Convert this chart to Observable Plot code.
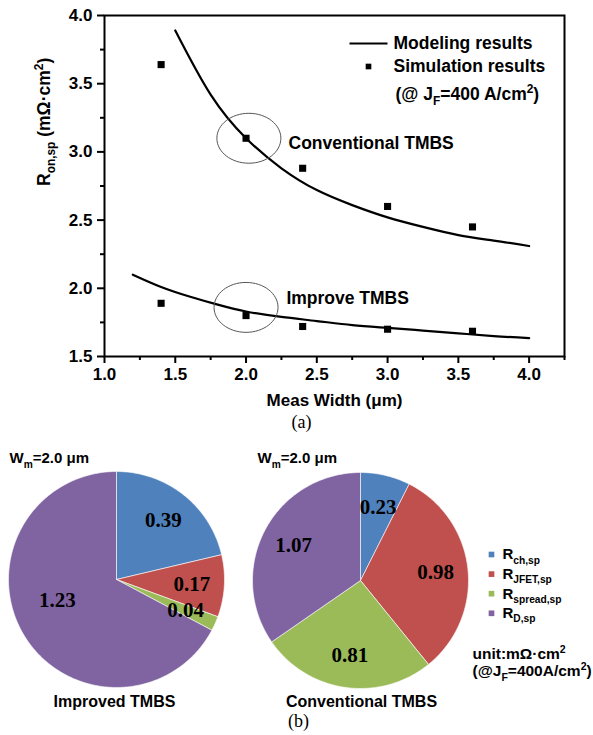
<!DOCTYPE html>
<html><head><meta charset="utf-8">
<script src="https://cdn.jsdelivr.net/npm/d3@7"></script>
<script src="https://cdn.jsdelivr.net/npm/@observablehq/plot@0.6"></script>
<style>
html,body{margin:0;padding:0;background:#fff;}
#chart{width:593px;height:735px;position:relative;overflow:hidden;background:#fff;}
#chart svg{display:block;}
</style></head><body><div id="chart"></div>
<script>
// ---------- (a) line chart data ----------
const measWidth = [1.4, 2.0, 2.4, 3.0, 3.6];
const convSim = [3.64, 3.10, 2.88, 2.60, 2.45];
const imprSim = [1.89, 1.80, 1.72, 1.70, 1.685];
const convModelX = [1.5, 1.75, 2.0, 2.25, 2.5, 2.75, 3.0, 3.25, 3.5, 3.75, 4.0];
const convModelY = [3.89, 3.42, 3.10, 2.88, 2.72, 2.61, 2.52, 2.45, 2.39, 2.35, 2.31];
const imprModelX = [1.2, 1.4, 1.6, 1.8, 2.0, 2.25, 2.5, 2.75, 3.0, 3.25, 3.5, 3.75, 4.0];
const imprModelY = [2.10, 2.01, 1.94, 1.88, 1.83, 1.79, 1.76, 1.73, 1.71, 1.69, 1.67, 1.65, 1.635];
const xTicks = [1.0, 1.5, 2.0, 2.5, 3.0, 3.5, 4.0];
const xMinor = [1.25, 1.75, 2.25, 2.75, 3.25, 3.75, 4.25];
const yTicks = [1.5, 2.0, 2.5, 3.0, 3.5, 4.0];
const yMinor = [1.75, 2.25, 2.75, 3.25, 3.75];
const seriesNames = ["Conventional TMBS", "Improve TMBS"];
const annotCenterX = [2.02, 2.0];
const annotCenterY = [3.10, 1.86];
const annotLabelX = [2.30, 2.285];
const annotLabelY = [3.06, 1.925];
const legendLabels = ["Modeling results", "Simulation results", "(@ J_{F}=400 A/cm^{2})"];
const xLabel = "Meas Width (μm)";
const yLabel = "R_{on,sp} (mΩ·cm^{2})";

// ---------- (b) pie chart data ----------
const componentKeys = ["ch", "JFET", "spread", "D"];
const componentLabels = ["R_{ch,sp}", "R_{JFET,sp}", "R_{spread,sp}", "R_{D,sp}"];
const pieColors = ["#4F81BD", "#C0504D", "#9BBB59", "#8064A2"];
const improvedVals = [0.39, 0.17, 0.04, 1.23];
const conventionalVals = [0.23, 0.98, 0.81, 1.07];
const pieTitles = ["Improved TMBS", "Conventional TMBS"];
const pieHeader = "W_{m}=2.0 μm";
const unitLines = ["unit:mΩ·cm^{2}", "(@J_{F}=400A/cm^{2})"];

const SANS = "'Liberation Sans', Arial, Helvetica, sans-serif";
const SERIF = "'Liberation Serif', 'Times New Roman', serif";

// ---------- custom symbols ----------
const ellipseSymbol = {
  draw(ctx, size) {
    const rx = Math.sqrt(size / Math.PI), ry = rx * 0.78, k = 0.5523;
    ctx.moveTo(rx, 0);
    ctx.bezierCurveTo(rx, k * ry, k * rx, ry, 0, ry);
    ctx.bezierCurveTo(-k * rx, ry, -rx, k * ry, -rx, 0);
    ctx.bezierCurveTo(-rx, -k * ry, -k * rx, -ry, 0, -ry);
    ctx.bezierCurveTo(k * rx, -ry, rx, -k * ry, rx, 0);
    ctx.closePath();
  }
};
const dashSymbol = {
  draw(ctx, size) {
    const h = Math.sqrt(size / Math.PI);
    ctx.moveTo(-h, 0); ctx.lineTo(h, 0);
  }
};

// ---------- (a) ----------
const simRows = [];
measWidth.forEach((w, i) => { simRows.push({x: w, y: convSim[i]}); simRows.push({x: w, y: imprSim[i]}); });
const convModel = convModelX.map((x, i) => ({x, y: convModelY[i]}));
const imprModel = imprModelX.map((x, i) => ({x, y: imprModelY[i]}));
const annots = seriesNames.map((name, i) => ({name, cx: annotCenterX[i], cy: annotCenterY[i], lx: annotLabelX[i], ly: annotLabelY[i]}));

const plotA = Plot.plot({
  width: 593, height: 440,
  marginLeft: 104, marginRight: 29, marginTop: 15, marginBottom: 84,
  style: {fontFamily: SANS, fontWeight: "bold", fontSize: "17px", background: "white", color: "black"},
  x: {domain: [1, 4.25]},
  y: {domain: [1.5, 4.0]},
  marks: [
    Plot.axisX({ticks: xTicks, tickFormat: d3.format(".1f"), tickSize: 7, tickPadding: 4, strokeWidth: 2, label: null, fontSize: 17}),
    Plot.axisX({ticks: xMinor, tickSize: 4, strokeWidth: 2, fill: "none", tickFormat: () => "", label: null}),
    Plot.axisY({ticks: yTicks, tickFormat: d3.format(".1f"), tickSize: 7, tickPadding: 5, strokeWidth: 2, label: null, fontSize: 17}),
    Plot.axisY({ticks: yMinor, tickSize: 4, strokeWidth: 2, fill: "none", tickFormat: () => "", label: null}),
    Plot.frame({stroke: "black", strokeWidth: 2}),
    Plot.line(convModel, {x: "x", y: "y", curve: "natural", stroke: "black", strokeWidth: 2.2}),
    Plot.line(imprModel, {x: "x", y: "y", curve: "natural", stroke: "black", strokeWidth: 2.2}),
    Plot.dot(simRows, {x: "x", y: "y", symbol: "square", r: 4, fill: "black", stroke: "none"}),
    Plot.dot(annots, {x: "cx", y: "cy", symbol: ellipseSymbol, r: 32, fill: "none", stroke: "#555", strokeWidth: 1}),
    Plot.text(annots, {x: "lx", y: "ly", text: "name", textAnchor: "start", fontSize: 17.5}),
    // legend (frame-relative)
    Plot.dot([0], {frameAnchor: "top-left", dx: 264, dy: 28, symbol: dashSymbol, r: 19, fill: "none", stroke: "black", strokeWidth: 2.2}),
    Plot.dot([0], {frameAnchor: "top-left", dx: 264, dy: 51, symbol: "square", r: 3.2, fill: "black", stroke: "none"}),
    Plot.text([legendLabels[0]], {frameAnchor: "top-left", dx: 289, dy: 28, textAnchor: "start", lineAnchor: "middle", text: d => d, fontSize: 17.5}),
    Plot.text([legendLabels[1]], {frameAnchor: "top-left", dx: 289, dy: 51, textAnchor: "start", lineAnchor: "middle", text: d => d, fontSize: 17.5}),
    Plot.text([legendLabels[2]], {frameAnchor: "top-left", dx: 291, dy: 79, textAnchor: "start", lineAnchor: "middle", text: d => d, fontSize: 17.5}),
    // axis titles
    Plot.text([xLabel], {frameAnchor: "bottom", dy: 44, lineAnchor: "middle", text: d => d, fontSize: 17}),
    Plot.text([yLabel], {frameAnchor: "left", dx: -60, rotate: -90, lineAnchor: "middle", text: d => d, fontSize: 17.5}),
    Plot.text(["(a)"], {frameAnchor: "bottom", dx: -33, dy: 66, lineAnchor: "middle", text: d => d, fontSize: 18, fontWeight: "normal", fontFamily: SERIF})
  ]
});

// ---------- (b) ----------
const R = 108;
const pies = [
  {name: "improved", values: improvedVals, cx: 116, cy: 149, title: pieTitles[0], tx: 114, hx: 9},
  {name: "conventional", values: conventionalVals, cx: 360, cy: 150, title: pieTitles[1], tx: 361, hx: 257}
];
const slicePts = [], sliceLabels = [];
pies.forEach(p => {
  const arcs = d3.pie().sort(null)(p.values);
  arcs.forEach((a, i) => {
    const id = p.name + i, key = componentKeys[i];
    slicePts.push({id, key, x: p.cx, y: p.cy});
    const n = Math.max(2, Math.ceil((a.endAngle - a.startAngle) / (Math.PI / 180)));
    for (let j = 0; j <= n; j++) {
      const t = a.startAngle + (a.endAngle - a.startAngle) * j / n;
      slicePts.push({id, key, x: p.cx + R * Math.sin(t), y: p.cy - R * Math.cos(t)});
    }
    slicePts.push({id, key, x: p.cx, y: p.cy});
    const frac = (a.endAngle - a.startAngle) / (2 * Math.PI);
    const m = (a.startAngle + a.endAngle) / 2 + (frac > 0.5 ? 0.2 : 0);
    const lr = R * (frac > 0.5 ? 0.58 : 0.7);
    sliceLabels.push({x: p.cx + lr * Math.sin(m), y: p.cy - lr * Math.cos(m), text: d3.format(".2f")(a.data)});
  });
});
const legendRows = componentKeys.map((k, i) => ({key: k, label: componentLabels[i], y: 124 + i * 19.6}));

const plotB = Plot.plot({
  width: 593, height: 295, margin: 0,
  style: {fontFamily: SANS, fontWeight: "bold", fontSize: "15px", background: "white", color: "black"},
  x: {domain: [0, 593], range: [0, 593], axis: null},
  y: {domain: [10, 305], range: [0, 295], axis: null},
  color: {domain: componentKeys, range: pieColors},
  marks: [
    Plot.line(slicePts, {x: "x", y: "y", z: "id", fill: "key", stroke: "white", strokeWidth: 0.6, curve: "linear"}),
    Plot.text(sliceLabels, {x: "x", y: "y", text: "text", fontFamily: SERIF, fontWeight: "bold", fontSize: 21, lineAnchor: "middle"}),
    Plot.text(pies, {x: "hx", y: () => 28, text: () => pieHeader, textAnchor: "start", lineAnchor: "middle", fontSize: 15}),
    Plot.text(pies, {x: "tx", y: () => 271, text: "title", lineAnchor: "middle", fontSize: 16}),
    Plot.dot(legendRows, {x: () => 491, y: "y", symbol: "square", r: 3.2, fill: "key", stroke: "none"}),
    Plot.text(legendRows, {x: () => 502, y: "y", text: "label", textAnchor: "start", lineAnchor: "middle", fontSize: 15}),
    Plot.text(unitLines, {x: () => 472, y: (d, i) => 224 + i * 17, text: d => d, textAnchor: "start", lineAnchor: "middle", fontSize: 15.5}),
    Plot.text(["(b)"], {x: () => 298, y: () => 291, text: d => d, lineAnchor: "middle", fontFamily: SERIF, fontWeight: "normal", fontSize: 18})
  ]
});

const root = document.getElementById("chart");
root.appendChild(plotA);
root.appendChild(plotB);

// sub/superscript markup: _{..} and ^{..}
function richify(svg) {
  d3.select(svg).selectAll("text").each(function () {
    const t = this.textContent;
    if (!/[_^]\{/.test(t)) return;
    const fs = parseFloat(getComputedStyle(this).fontSize) || 16;
    const parts = [];
    const re = /([_^])\{([^}]*)\}/g;
    let last = 0, m;
    while ((m = re.exec(t))) {
      if (m.index > last) parts.push({s: t.slice(last, m.index), k: ""});
      parts.push({s: m[2], k: m[1]});
      last = re.lastIndex;
    }
    if (last < t.length) parts.push({s: t.slice(last), k: ""});
    const sel = d3.select(this);
    sel.text(null);
    let cur = 0;
    parts.forEach(p => {
      const target = p.k === "_" ? 0.28 * fs : p.k === "^" ? -0.42 * fs : 0;
      const ts = sel.append("tspan").text(p.s).attr("dy", target - cur);
      if (p.k) ts.attr("font-size", (0.68 * fs).toFixed(1));
      cur = target;
    });
  });
}
richify(plotA);
richify(plotB);
</script>
</body></html>
